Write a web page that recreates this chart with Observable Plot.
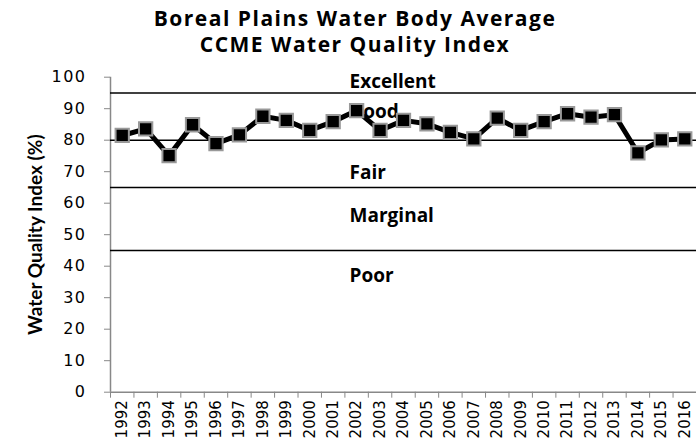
<!DOCTYPE html>
<html><head><meta charset="utf-8">
<script src="https://cdn.jsdelivr.net/npm/d3@7"></script>
<script src="https://cdn.jsdelivr.net/npm/@observablehq/plot@0.6"></script>
<style>
body{margin:0;background:#fff;width:696px;height:442px;overflow:hidden}
#title{font-family:"Open Sans",sans-serif;font-weight:700;font-size:21px;letter-spacing:1.5px;line-height:26px;text-align:center;height:57px;padding-top:5px;padding-left:14px;color:#000;box-sizing:content-box}
#chart g[aria-label="y-axis label"] text{font-family:"Liberation Sans Narrow","Lato",sans-serif;font-weight:700;font-size:19px}
#chart g[aria-label="y-axis tick label"] text{letter-spacing:1.5px}
</style></head><body>
<div id="title">Boreal Plains Water Body Average<br>CCME Water Quality Index</div>
<div id="chart"></div>
<script>
const years = [1992,1993,1994,1995,1996,1997,1998,1999,2000,2001,2002,2003,2004,2005,2006,2007,2008,2009,2010,2011,2012,2013,2014,2015,2016];
const wqi = [81.5,83.6,75.1,84.9,78.9,81.7,87.6,86.3,83.1,85.9,89.4,83.1,86.3,85.2,82.5,80.4,87.0,83.1,85.9,88.4,87.3,88.1,76.0,80.1,80.4];
const yTicks = [0,10,20,30,40,50,60,70,80,90,100];
const bandThresholds = [95,80,65,45];
const bandNames = ["Excellent","Good","Fair","Marginal","Poor"];
const bandLabelY = [98.4,89,69.5,56,37];
const bandLabelX = 2001.7;

const data = years.map((year,i)=>({year, value:wqi[i]}));
const bandLabels = bandNames.map((name,i)=>({name, y:bandLabelY[i], x:bandLabelX}));
const xDomain = [years[0]-0.5, years[years.length-1]+0.5];
const boundaries = years.map(y=>y-0.5).concat([xDomain[1]]);

const chart = Plot.plot({
  width:696, height:380, marginTop:14.7, marginBottom:50.3, marginLeft:110, marginRight:0,
  x:{domain:xDomain},
  y:{domain:[0,100]},
  style:{fontFamily:"DejaVu Sans", fontSize:"15px", color:"#000", background:"#fff", overflow:"visible"},
  marks:[
    Plot.axisY(yTicks,{tickSize:6, tickPadding:18, stroke:"#888", label:"Water Quality Index (%)", labelAnchor:"center", labelArrow:"none", labelOffset:82, fontSize:16}),
    Plot.axisX(years,{tickSize:0, tickPadding:8, tickRotate:-90, tickFormat:d=>String(d), label:null, fontSize:15}),
    Plot.axisX(boundaries,{tickSize:6, tickFormat:()=>"", stroke:"#888", label:null}),
    Plot.ruleX([xDomain[0]],{stroke:"#888", strokeWidth:1.5}),
    Plot.ruleY([0],{stroke:"#888", strokeWidth:1.5}),
    Plot.ruleY(bandThresholds,{stroke:"#000", strokeWidth:1.5}),
    Plot.text(bandLabels,{x:"x", y:"y", text:"name", textAnchor:"start", fontFamily:"Open Sans", fontWeight:"bold", fontSize:19, fill:"#000", style:"letter-spacing:0.5px"}),
    Plot.line(data,{x:"year", y:"value", stroke:"#000", strokeWidth:5}),
    Plot.dot(data,{x:"year", y:"value", symbol:"square", r:7.5, fill:"#000", stroke:"#999", strokeWidth:2})
  ]
});
document.getElementById("chart").appendChild(chart);
</script>
</body></html>
